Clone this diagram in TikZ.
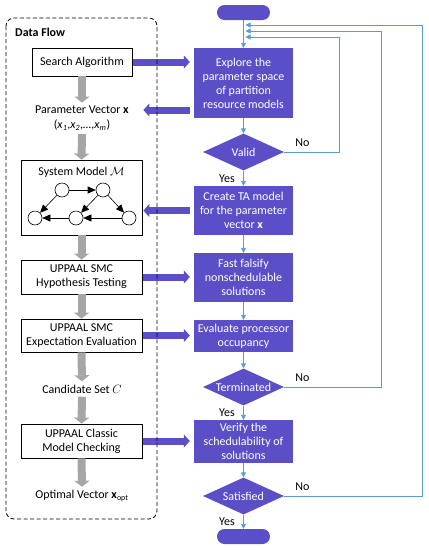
\documentclass[tikz,border=0pt]{standalone}
\usepackage{fontspec}
\setmainfont{Carlito}
\usetikzlibrary{arrows.meta,shapes.geometric,calc}
\definecolor{pur}{RGB}{91,79,199}
\definecolor{bl}{RGB}{91,155,213}
\definecolor{gr}{RGB}{166,166,166}
\begin{document}
\begin{tikzpicture}[x=1pt,y=-1pt,font=\fontsize{12}{14}\selectfont,
  lbox/.style={draw=black,line width=0.8pt,fill=white,minimum width=121pt,inner sep=0pt,align=center},
  pbox/.style={fill=pur,text=white,minimum width=99pt,inner sep=0pt,align=center},
  pdia/.style={diamond,fill=pur,text=white,minimum width=81pt,minimum height=37pt,inner sep=0pt,aspect=2.2},
  termbox/.style={fill=pur,rounded corners=7.5pt,minimum width=53pt,minimum height=15pt,inner sep=0pt},
  gar/.style={draw=gr,line width=8pt,-{Triangle[width=15pt,length=6pt]}},
  par/.style={draw=pur,line width=7pt,-{Triangle[width=13pt,length=6pt]}},
  bar/.style={draw=bl,line width=0.9pt,-{Triangle[width=5pt,length=5pt]}},
  gedge/.style={draw=black,line width=0.6pt,-{Triangle[width=7pt,length=8pt]}},
  circ/.style={circle,draw=black,line width=0.6pt,fill=white,minimum size=14pt,inner sep=0pt},
  nolab/.style={anchor=south west,inner sep=0pt}]
\useasboundingbox (0,0) rectangle (429,550);

% ---------- left column ----------
\node[anchor=west,inner sep=0pt,font=\bfseries\fontsize{12}{14}\selectfont] (df) at (15,32) {Data Flow};
\node[lbox,minimum width=100pt,minimum height=28pt] (search) at (82,62) {Search Algorithm};
\node (pv) at (82,110) {Parameter Vector \textbf{x}};
\node (pvs) at (82,125) {(\textit{x}\textsubscript{\textit{1}},\textit{x}\textsubscript{\textit{2}},\textit{…},\textit{x}\textsubscript{\textit{m}})};
\node[lbox,minimum height=75pt] (sys) at (81.5,197.5) {};
\node (systitle) at (81.5,172) {System Model $\mathcal{M}$};
\node[circ] (ga) at (62,190) {};
\node[circ] (gb) at (103,190) {};
\node[circ] (gc) at (35,218) {};
\node[circ] (gd) at (76,218) {};
\node[circ] (ge) at (129,218) {};
\draw[gedge] (ga) -- (gb);
\draw[gedge] (ga) -- (gc);
\draw[gedge] (gb) -- (gd);
\draw[gedge] (gb) -- (ge);
\draw[gedge] (gd) -- (gc);
\draw[gedge] (ge) -- (gd);
\node[lbox,minimum height=34pt] (hyp) at (81.5,277) {UPPAAL SMC\\Hypothesis Testing};
\node[lbox,minimum height=33pt] (exp) at (81.5,335.5) {UPPAAL SMC\\Expectation Evaluation};
\node (cand) at (82,389) {Candidate Set $C$};
\node[lbox,minimum height=34pt] (classic) at (81.5,441) {UPPAAL Classic\\Model Checking};
\node (opt) at (82,496) {Optimal Vector \textbf{x}\textsubscript{opt}};

\draw[gar] (search.south) -- (pv.north);
\draw[gar] (pvs.south) -- (sys.north);
\draw[gar] (sys.south) -- (hyp.north);
\draw[gar] (hyp.south) -- (exp.north);
\draw[gar] (exp.south) -- (cand.north);
\draw[gar] (cand.south) -- (classic.north);
\draw[gar] (classic.south) -- (opt.north);

% ---------- right column ----------
\node[termbox] (start) at (243.5,12.5) {};
\node[pbox,minimum height=70pt] (explore) at (243.5,83) {Explore the\\parameter space\\of partition\\resource models};
\node[pdia] (valid) at (243.5,152) {\makebox[0pt]{Valid}};
\node[pbox,minimum height=49pt] (create) at (243.5,210.5) {Create TA model\\for the parameter\\vector \textbf{x}};
\node[pbox,minimum height=49pt] (fast) at (243.5,277.5) {Fast falsify\\nonschedulable\\solutions};
\node[pbox,minimum height=32pt] (eval) at (243.5,336) {Evaluate processor\\occupancy};
\node[pdia] (termd) at (243.5,387) {\makebox[0pt]{Terminated}};
\node[pbox,minimum height=43pt] (verify) at (243.5,441.5) {Verify the\\schedulability of\\solutions};
\node[pdia] (sat) at (243.5,496) {\makebox[0pt]{Satisfied}};
\node[termbox] (end) at (243.5,536.5) {};

\coordinate (r1) at (339,37);
\coordinate (r2) at (381,31);
\coordinate (r3) at (422,25);

\draw[bar] (start.south) -- (explore.north);
\draw[bar] (explore.south) -- (valid.north);
\draw[bar] (valid.south) -- node[left=5pt] {Yes} (create.north);
\draw[bar] (create.south) -- (fast.north);
\draw[bar] (fast.south) -- (eval.north);
\draw[bar] (eval.south) -- (termd.north);
\draw[bar] (termd.south) -- node[left=5pt] {Yes} (verify.north);
\draw[bar] (verify.south) -- (sat.north);
\draw[bar] (sat.south) -- node[left=5pt] {Yes} (end.north);

\draw[bar,shorten >=2pt] (valid.east) -- (valid.east -| r1) -- (r1) -- (r1 -| explore.north);
\draw[bar,shorten >=2pt] (termd.east) -- (termd.east -| r2) -- (r2) -- (r2 -| explore.north);
\draw[bar,shorten >=2pt] (sat.east) -- (sat.east -| r3) -- (r3) -- (r3 -| explore.north);
\node[nolab] (no1) at ($(valid.east)+(11,-5)$) {No};
\node[nolab] (no2) at ($(termd.east)+(11,-5)$) {No};
\node[nolab] (no3) at ($(sat.east)+(11,-5)$) {No};

% ---------- cross arrows ----------
\draw[par,shorten <=1pt,shorten >=4pt] (search.east) -- (search.east -| explore.west);
\draw[par,shorten <=4pt,shorten >=1pt] (explore.west |- pv) -- (sys.east |- pv);
\draw[par,shorten <=4pt,shorten >=1pt] (create.west) -- (create.west -| sys.east);
\draw[par,shorten <=1pt,shorten >=4pt] (hyp.east) -- (hyp.east -| fast.west);
\draw[par,shorten <=1pt,shorten >=4pt] (exp.east) -- (exp.east -| eval.west);
\draw[par,shorten <=1pt,shorten >=4pt] (classic.east) -- (classic.east -| verify.west);

% ---------- dashed frame ----------
\draw[dash pattern=on 4pt off 2.5pt,line width=0.8pt,rounded corners=8pt] (6,18) rectangle (157,519);
\end{tikzpicture}
\end{document}
